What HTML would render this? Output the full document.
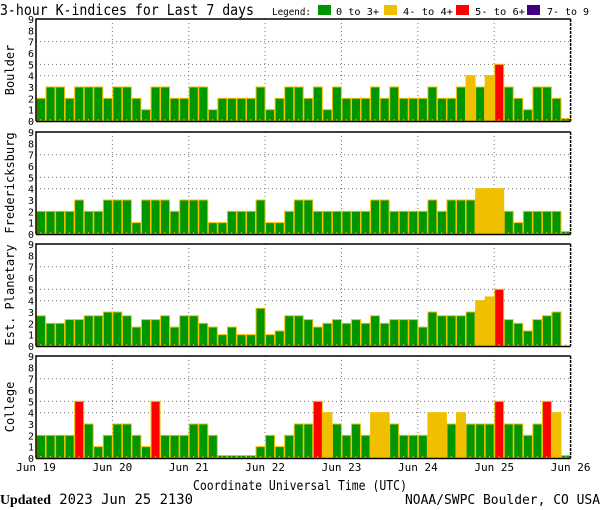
<!DOCTYPE html>
<html><head><meta charset="utf-8"><style>
html,body{margin:0;padding:0;background:#fff;width:600px;height:510px;overflow:hidden}
svg{display:block}
text{font-family:"DejaVu Sans Mono","Liberation Mono",monospace}
</style></head><body>
<svg id="chart" width="600" height="510" viewBox="0 0 600 510">
<text x="0" y="15" font-size="15" fill="#000" textLength="254" lengthAdjust="spacingAndGlyphs" font-family="Liberation Sans, sans-serif">3-hour K-indices for Last 7 days</text>
<g font-size="10">
<text x="272" y="15" textLength="39" lengthAdjust="spacingAndGlyphs">Legend:</text>
<rect x="318" y="5" width="13" height="10" fill="#009600"/>
<text x="336" y="15" textLength="43" lengthAdjust="spacingAndGlyphs">0 to 3+</text>
<rect x="384" y="5" width="13" height="10" fill="#f0c000"/>
<text x="403" y="15" textLength="50" lengthAdjust="spacingAndGlyphs">4- to 4+</text>
<rect x="456" y="5" width="13" height="10" fill="#ff0000"/>
<text x="475" y="15" textLength="50" lengthAdjust="spacingAndGlyphs">5- to 6+</text>
<rect x="527" y="5" width="13" height="10" fill="#400080"/>
<text x="547" y="15" textLength="42" lengthAdjust="spacingAndGlyphs">7- to 9</text>
</g>
<text x="193" y="490" font-size="13" textLength="214" lengthAdjust="spacingAndGlyphs">Coordinate Universal Time (UTC)</text>
<text x="0" y="504" font-size="14" textLength="193" lengthAdjust="spacingAndGlyphs"><tspan font-family="Liberation Serif, serif" font-weight="bold">Updated</tspan> 2023 Jun 25 2130</text>
<text x="405" y="504" font-size="13" textLength="195" lengthAdjust="spacingAndGlyphs">NOAA/SWPC Boulder, CO USA</text>
</svg>
<script>
const stations = ["Boulder","Fredericksburg","Est. Planetary","College"];
const boulder = [2,3,3,2,3,3,3,2, 3,3,2,1,3,3,2,2, 3,3,1,2,2,2,2,3, 1,2,3,3,2,3,1,3, 2,2,2,3,2,3,2,2, 2,3,2,2,3,4,3,4, 5,3,2,1,3,3,2,0.1];
const fredericksburg = [2,2,2,2,3,2,2,3, 3,3,1,3,3,3,2,3, 3,3,1,1,2,2,2,3, 1,1,2,3,3,2,2,2, 2,2,2,3,3,2,2,2, 2,3,2,3,3,3,4,4, 4,2,1,2,2,2,2,0.1];
const planetary = [2.67,2,2,2.33,2.33,2.67,2.67,3, 3,2.67,1.67,2.33,2.33,2.67,1.67,2.67, 2.67,2,1.67,1,1.67,1,1,3.33, 1,1.33,2.67,2.67,2.33,1.67,2,2.33, 2,2.33,2,2.67,2,2.33,2.33,2.33, 1.67,3,2.67,2.67,2.67,3,4,4.33, 5,2.33,2,1.33,2.33,2.67,3,0];
const college = [2,2,2,2,5,3,1,2, 3,3,2,1,5,2,2,2, 3,3,2,0.1,0.1,0.1,0.1,1, 2,1,2,3,3,5,4,3, 2,3,2,4,4,3,2,2, 2,4,4,3,4,3,3,3, 5,3,3,2,3,5,4,0.1];
const dayLabels = ["Jun 19","Jun 20","Jun 21","Jun 22","Jun 23","Jun 24","Jun 25","Jun 26"];
const yTicks = [0,1,2,3,4,5,6,7,8,9];
const gridLevels = [4,5,7];
const series = [boulder,fredericksburg,planetary,college];

const svg = document.getElementById('chart');
const NS = "http://www.w3.org/2000/svg";
const X0 = 36, PW = 534.6, NB = 56, H = 102;
const tops = [19,132,244,356];
const bw = PW/NB;
function xScale(i){ return X0 + i*bw; }
function yScale(top, v){ return top + H - v*H/9; }
function colorFor(v){ return v>=7?"#400080":v>=5?"#ff0000":v>=4?"#f0c000":"#009600"; }
function mk(tag, attrs){ const e=document.createElementNS(NS,tag); for(const k in attrs) e.setAttribute(k,attrs[k]); return e; }

series.forEach((data, p) => {
  const top = tops[p];
  const g = mk('g', {});
  
  
  svg.appendChild(g);
  gridLevels.forEach(l => {
    const ln = mk('line',{x1:X0,x2:X0+PW,y1:yScale(top,l),y2:yScale(top,l),stroke:"#777","stroke-width":1,"stroke-dasharray":"1,3"});
    
    
    g.appendChild(ln);
  });
  for(let d=1; d<7; d++){
    const x = xScale(d*8);
    const ln = mk('line',{x1:x,x2:x,y1:top,y2:top+H,stroke:"#777","stroke-width":1,"stroke-dasharray":"1,3"});
    
    
    g.appendChild(ln);
  }
  data.forEach((v,i) => {
    if(v>0){
      let y = yScale(top,v);
      if(top+H-y < 2.5) y = top+H-2.5;
      const r = mk('rect',{x:xScale(i)+0.5,y:y,width:bw-0.6,height:top+H-y,fill:colorFor(v),stroke:"#f0c000","stroke-width":1});
      
      
      g.appendChild(r);
    }
    const t = mk('rect',{x:xScale(i)+bw/2-0.5,y:top+H-2,width:1,height:2,fill:"#f0c000"});
    
    
    g.appendChild(t);
  });
  const frame = mk('path',{d:`M${X0},${top+H} L${X0},${top} L${X0+PW},${top}`,fill:"none",stroke:"#000","stroke-width":1.5});
  
  
  g.appendChild(frame);
  const right = mk('line',{x1:X0+PW,x2:X0+PW,y1:top,y2:top+H,stroke:"#000","stroke-width":1.5,"stroke-dasharray":"3,1"});
  
  
  g.appendChild(right);
  const base = mk('line',{x1:X0,x2:X0+PW,y1:top+H+0.5,y2:top+H+0.5,stroke:"#000","stroke-width":1.5});
  
  
  g.appendChild(base);
  yTicks.forEach(v => {
    const tx = mk('text',{x:34,y:yScale(top,v)+4,"font-size":10,"text-anchor":"end"});
    tx.textContent = v;
    
    
    g.appendChild(tx);
  });
  const lbl = mk('text',{x:0,y:0,"font-size":12,"text-anchor":"middle",transform:`translate(14,${top+H/2}) rotate(-90)`,"font-family":"Liberation Sans, sans-serif"});
  lbl.textContent = stations[p];
  
  
  g.appendChild(lbl);
});
dayLabels.forEach((d,i) => {
  const tx = mk('text',{x:xScale(i*8),y:471,"font-size":11,"text-anchor":"middle"});
  tx.textContent = d;
  
  
  svg.appendChild(tx);
});
</script>
</body></html>
